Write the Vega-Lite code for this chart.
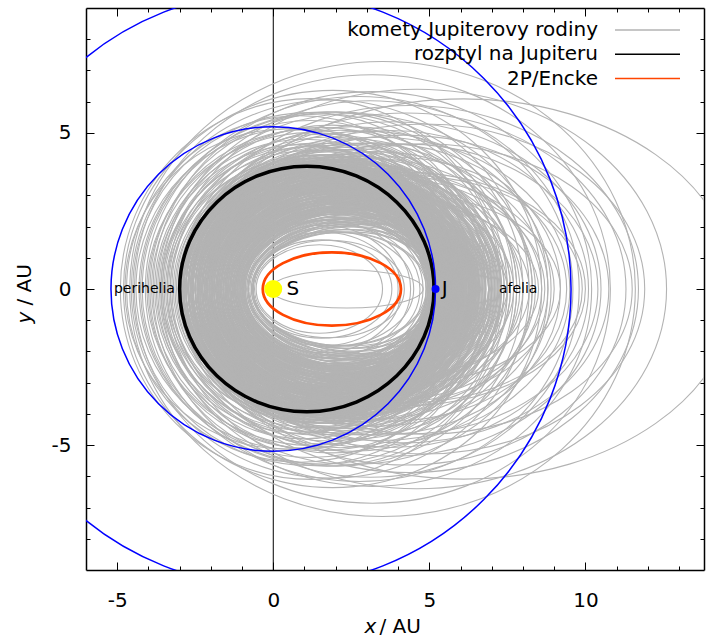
{
"$schema": "https://vega.github.io/schema/vega-lite/v6.json",
"width": 618, "height": 562,
"autosize": {"type": "none"},
"padding": {"left": 86, "top": 8, "right": 2, "bottom": 68},
"background": "white",
"config": {
  "view": {"stroke": null},
  "font": "DejaVu Sans",
  "axis": {"grid": false, "tickColor": "black", "tickWidth": 1, "labelColor": "black", "labelFont": "DejaVu Sans", "labelFontSize": 20, "titleFont": "DejaVu Sans", "titleFontSize": 20, "titleFontWeight": "normal", "titleColor": "black", "domainColor": "black", "domainWidth": 1.5, "zindex": 1}
},
"datasets": {
  "orbits": [
{"s":"K","c":1.475,"a":2.025,"r":"0.70"},{"s":"K","c":1.55,"a":2.25,"r":"0.70"},{"s":"K","c":1.575,"a":2.425,"r":"0.75"},{"s":"K","c":1.8,"a":2.4,"r":"0.65"},{"s":"K","c":1.55,"a":2.55,"r":"0.80"},{"s":"K","c":1.875,"a":2.625,"r":"0.70"},{"s":"K","c":1.9,"a":2.8,"r":"0.75"},{"s":"K","c":1.65,"a":2.75,"r":"0.80"},{"s":"K","c":2.125,"a":2.775,"r":"0.65"},{"s":"K","c":1.8,"a":3.0,"r":"0.80"},{"s":"K","c":2.36,"a":2.44,"r":"0.25"},
{"s":"K","c":2.25,"a":3.05,"r":"0.70"},{"s":"K","c":2.5,"a":3.4,"r":"0.70"},{"s":"K","c":1.975,"a":2.975,"r":"0.75"},{"s":"K","c":2.625,"a":3.675,"r":"0.70"},{"s":"K","c":2.2,"a":3.3,"r":"0.75"},{"s":"K","c":1.975,"a":3.125,"r":"0.80"},{"s":"K","c":2.4,"a":3.6,"r":"0.75"},{"s":"K","c":2.225,"a":3.475,"r":"0.75"},{"s":"K","c":1.95,"a":3.25,"r":"0.80"},{"s":"K","c":2.525,"a":3.875,"r":"0.75"},
{"s":"K","c":2.0,"a":3.4,"r":"0.80"},{"s":"K","c":2.175,"a":3.625,"r":"0.80"},{"s":"K","c":1.75,"a":3.25,"r":"0.85"},{"s":"K","c":2.275,"a":3.825,"r":"0.80"},{"s":"K","c":1.85,"a":3.45,"r":"0.85"},{"s":"K","c":2.125,"a":3.775,"r":"0.85"},{"s":"K","c":1.625,"a":3.325,"r":"0.85"},{"s":"K","c":2.275,"a":4.025,"r":"0.80"},{"s":"K","c":1.85,"a":3.65,"r":"0.85"},{"s":"K","c":1.625,"a":3.475,"r":"0.90"},
{"s":"K","c":2.05,"a":3.95,"r":"0.85"},{"s":"K","c":1.875,"a":3.825,"r":"0.85"},{"s":"K","c":1.6,"a":3.6,"r":"0.90"},{"s":"K","c":2.175,"a":4.225,"r":"0.85"},{"s":"K","c":1.65,"a":3.75,"r":"0.90"},{"s":"K","c":1.825,"a":3.975,"r":"0.90"},{"s":"K","c":1.4,"a":3.6,"r":"0.90"},{"s":"K","c":1.925,"a":4.175,"r":"0.90"},{"s":"K","c":1.5,"a":3.8,"r":"0.90"},{"s":"K","c":1.775,"a":4.125,"r":"0.90"},
{"s":"K","c":1.275,"a":3.675,"r":"0.95"},{"s":"K","c":1.925,"a":4.375,"r":"0.90"},{"s":"K","c":1.5,"a":4.0,"r":"0.95"},{"s":"K","c":1.275,"a":3.825,"r":"0.95"},{"s":"K","c":1.7,"a":4.3,"r":"0.90"},{"s":"K","c":1.525,"a":4.175,"r":"0.95"},{"s":"K","c":1.25,"a":3.95,"r":"0.95"},{"s":"K","c":1.8,"a":4.6,"r":"0.90"},{"s":"K","c":1.25,"a":4.15,"r":"0.95"},
{"s":"K","c":2.375,"a":3.225,"r":"0.70"},{"s":"K","c":2.05,"a":3.0,"r":"0.75"},{"s":"K","c":2.6,"a":3.6,"r":"0.70"},{"s":"K","c":2.325,"a":3.425,"r":"0.75"},{"s":"K","c":2.025,"a":3.225,"r":"0.80"},{"s":"K","c":2.375,"a":3.675,"r":"0.75"},{"s":"K","c":2.1,"a":3.5,"r":"0.80"},{"s":"K","c":2.5,"a":4.0,"r":"0.80"},{"s":"K","c":1.725,"a":3.325,"r":"0.85"},{"s":"K","c":1.975,"a":3.675,"r":"0.85"},
{"s":"K","c":2.175,"a":3.975,"r":"0.85"},{"s":"K","c":1.675,"a":3.575,"r":"0.90"},{"s":"K","c":1.975,"a":3.975,"r":"0.85"},{"s":"K","c":1.525,"a":3.625,"r":"0.90"},{"s":"K","c":2.025,"a":4.225,"r":"0.90"},{"s":"K","c":1.65,"a":3.95,"r":"0.90"},{"s":"K","c":1.725,"a":4.125,"r":"0.90"},{"s":"K","c":1.275,"a":3.775,"r":"0.95"},{"s":"K","c":1.375,"a":3.975,"r":"0.95"},{"s":"K","c":1.6,"a":4.35,"r":"0.95"},
{"s":"K","c":1.125,"a":3.975,"r":"0.95"},{"s":"K","c":1.825,"a":3.075,"r":"0.80"},{"s":"K","c":1.85,"a":3.3,"r":"0.85"},{"s":"K","c":2.35,"a":4.0,"r":"0.80"},{"s":"K","c":1.475,"a":3.425,"r":"0.90"},{"s":"K","c":1.65,"a":3.8,"r":"0.90"},{"s":"K","c":2.05,"a":4.4,"r":"0.90"},{"s":"K","c":2.15,"a":3.2,"r":"0.75"},{"s":"K","c":2.65,"a":3.8,"r":"0.70"},{"s":"K","c":2.1,"a":3.45,"r":"0.80"},{"s":"K","c":1.95,"a":3.5,"r":"0.85"},
{"s":"K","c":3.0,"a":4.0,"r":"0.65"},{"s":"K","c":3.5,"a":4.7,"r":"0.65"},{"s":"K","c":2.75,"a":4.05,"r":"0.75"},{"s":"K","c":3.8,"a":5.2,"r":"0.70"},{"s":"K","c":3.0,"a":4.5,"r":"0.75"},{"s":"K","c":2.5,"a":4.1,"r":"0.80"},{"s":"K","c":3.45,"a":5.15,"r":"0.75"},{"s":"K","c":2.7,"a":4.5,"r":"0.80"},{"s":"K","c":3.75,"a":5.65,"r":"0.75"},{"s":"K","c":2.45,"a":4.45,"r":"0.85"},
{"s":"K","c":2.9,"a":5.0,"r":"0.80"},{"s":"K","c":3.3,"a":5.5,"r":"0.80"},{"s":"K","c":2.2,"a":4.5,"r":"0.85"},{"s":"K","c":2.6,"a":5.0,"r":"0.85"},{"s":"K","c":3.35,"a":5.85,"r":"0.80"},{"s":"K","c":2.2,"a":4.8,"r":"0.90"},{"s":"K","c":2.8,"a":5.5,"r":"0.85"},{"s":"K","c":1.9,"a":4.7,"r":"0.90"},{"s":"K","c":2.45,"a":5.35,"r":"0.90"},{"s":"K","c":2.95,"a":5.95,"r":"0.85"},
{"s":"K","c":2.1,"a":5.2,"r":"0.90"},{"s":"K","c":2.75,"a":3.85,"r":"0.70"},{"s":"K","c":3.225,"a":4.475,"r":"0.70"},{"s":"K","c":2.725,"a":4.175,"r":"0.75"},{"s":"K","c":3.175,"a":4.825,"r":"0.75"},{"s":"K","c":2.35,"a":4.2,"r":"0.85"},{"s":"K","c":3.175,"a":5.225,"r":"0.80"},{"s":"K","c":2.525,"a":4.775,"r":"0.85"},{"s":"K","c":2.175,"a":4.625,"r":"0.90"},{"s":"K","c":3.425,"a":6.075,"r":"0.80"},
{"s":"K","c":2.825,"a":4.575,"r":"0.80"},{"s":"K","c":2.225,"a":4.375,"r":"0.85"},{"s":"K","c":3.575,"a":5.125,"r":"0.70"},{"s":"K","c":2.125,"a":4.975,"r":"0.90"},{"s":"K","c":2.825,"a":4.775,"r":"0.80"},
{"s":"K","c":1.2,"a":4.4,"r":"0.95"},{"s":"K","c":1.55,"a":4.85,"r":"0.95"},{"s":"K","c":1.0,"a":4.4,"r":"0.95"},{"s":"K","c":2.15,"a":5.65,"r":"0.90"},{"s":"K","c":1.2,"a":4.8,"r":"0.95"},{"s":"K","c":2.55,"a":6.25,"r":"0.90"},{"s":"K","c":1.0,"a":4.8,"r":"1.00"},{"s":"K","c":1.55,"a":5.45,"r":"0.95"},{"s":"K","c":1.1,"a":5.1,"r":"1.00"},{"s":"K","c":2.75,"a":6.85,"r":"0.90"},
{"s":"K","c":1.2,"a":5.4,"r":"1.00"},{"s":"K","c":1.6,"a":5.9,"r":"0.95"},{"s":"K","c":0.75,"a":5.15,"r":"1.00"},{"s":"K","c":1.825,"a":6.375,"r":"0.95"},{"s":"K","c":0.85,"a":5.55,"r":"1.00"},{"s":"K","c":1.2,"a":6.1,"r":"1.00"},{"s":"K","c":1.475,"a":4.525,"r":"0.95"},{"s":"K","c":2.525,"a":5.775,"r":"0.90"},{"s":"K","c":1.675,"a":5.225,"r":"0.95"},{"s":"K","c":3.175,"a":7.025,"r":"0.90"},
{"s":"K","c":3.5,"a":8.1,"r":"0.90"},{"s":"K","c":0.375,"a":5.125,"r":"1.00"},{"s":"K","c":3.175,"a":7.625,"r":"0.90"},
{"s":"K","c":4.25,"a":5.75,"r":"0.65"},{"s":"K","c":4.2,"a":6.2,"r":"0.75"},{"s":"K","c":4.175,"a":6.575,"r":"0.75"},{"s":"K","c":4.25,"a":7.05,"r":"0.80"},{"s":"K","c":4.85,"a":6.65,"r":"0.70"},{"s":"K","c":4.35,"a":7.35,"r":"0.80"},{"s":"K","c":4.85,"a":7.05,"r":"0.75"},{"s":"K","c":4.6,"a":8.0,"r":"0.80"},{"s":"K","c":4.3,"a":5.6,"r":"0.65"},{"s":"K","c":3.75,"a":6.35,"r":"0.80"},
{"s":"K","c":3.1,"a":6.7,"r":"0.90"},{"s":"K","c":3.8,"a":6.7,"r":"0.80"},{"s":"K","c":6.1,"a":8.7,"r":"0.70"},
{"s":"K","c":3.4,"a":4.1,"r":"0.55"},{"s":"K","c":3.8,"a":4.7,"r":"0.60"},{"s":"K","c":3.0,"a":3.8,"r":"0.60"},{"s":"K","c":4.1,"a":5.1,"r":"0.60"},
{"s":"K","c":2.15,"a":2.8,"r":"0.65"},{"s":"K","c":2.275,"a":2.925,"r":"0.65"},{"s":"K","c":2.4,"a":3.05,"r":"0.60"},{"s":"K","c":2.525,"a":3.175,"r":"0.60"},{"s":"K","c":2.675,"a":3.325,"r":"0.60"},{"s":"K","c":2.875,"a":3.525,"r":"0.60"},{"s":"K","c":3.125,"a":3.775,"r":"0.55"},
{"s":"K","c":2.015,"a":2.965,"r":"0.75"},{"s":"K","c":2.14,"a":3.09,"r":"0.70"},{"s":"K","c":2.265,"a":3.215,"r":"0.70"},{"s":"K","c":2.39,"a":3.34,"r":"0.70"},{"s":"K","c":2.54,"a":3.49,"r":"0.70"},{"s":"K","c":2.74,"a":3.69,"r":"0.65"},{"s":"K","c":2.99,"a":3.94,"r":"0.65"},
{"s":"K","c":1.93,"a":3.08,"r":"0.80"},{"s":"K","c":2.055,"a":3.205,"r":"0.75"},{"s":"K","c":2.18,"a":3.33,"r":"0.75"},{"s":"K","c":2.305,"a":3.455,"r":"0.75"},{"s":"K","c":2.455,"a":3.605,"r":"0.75"},{"s":"K","c":2.655,"a":3.805,"r":"0.70"},{"s":"K","c":2.905,"a":4.055,"r":"0.70"},
{"s":"K","c":1.87,"a":3.17,"r":"0.80"},{"s":"K","c":1.995,"a":3.295,"r":"0.80"},{"s":"K","c":2.12,"a":3.42,"r":"0.80"},{"s":"K","c":2.245,"a":3.545,"r":"0.80"},{"s":"K","c":2.395,"a":3.695,"r":"0.75"},{"s":"K","c":2.595,"a":3.895,"r":"0.75"},{"s":"K","c":2.845,"a":4.145,"r":"0.75"},
{"s":"K","c":1.81,"a":3.26,"r":"0.85"},{"s":"K","c":1.935,"a":3.385,"r":"0.80"},{"s":"K","c":2.06,"a":3.51,"r":"0.80"},{"s":"K","c":2.185,"a":3.635,"r":"0.80"},{"s":"K","c":2.335,"a":3.785,"r":"0.80"},{"s":"K","c":2.535,"a":3.985,"r":"0.75"},{"s":"K","c":2.785,"a":4.235,"r":"0.75"},
{"s":"K","c":1.75,"a":3.35,"r":"0.85"},{"s":"K","c":1.875,"a":3.475,"r":"0.85"},{"s":"K","c":2.0,"a":3.6,"r":"0.85"},{"s":"K","c":2.125,"a":3.725,"r":"0.80"},{"s":"K","c":2.275,"a":3.875,"r":"0.80"},{"s":"K","c":2.475,"a":4.075,"r":"0.80"},{"s":"K","c":2.725,"a":4.325,"r":"0.80"},
{"s":"K","c":1.69,"a":3.44,"r":"0.85"},{"s":"K","c":1.815,"a":3.565,"r":"0.85"},{"s":"K","c":1.94,"a":3.69,"r":"0.85"},{"s":"K","c":2.065,"a":3.815,"r":"0.85"},{"s":"K","c":2.215,"a":3.965,"r":"0.85"},{"s":"K","c":2.415,"a":4.165,"r":"0.80"},{"s":"K","c":2.665,"a":4.415,"r":"0.80"},
{"s":"K","c":1.63,"a":3.53,"r":"0.90"},{"s":"K","c":1.755,"a":3.655,"r":"0.90"},{"s":"K","c":1.88,"a":3.78,"r":"0.85"},{"s":"K","c":2.005,"a":3.905,"r":"0.85"},{"s":"K","c":2.155,"a":4.055,"r":"0.85"},{"s":"K","c":2.355,"a":4.255,"r":"0.85"},{"s":"K","c":2.605,"a":4.505,"r":"0.80"},
{"s":"K","c":1.57,"a":3.62,"r":"0.90"},{"s":"K","c":1.695,"a":3.745,"r":"0.90"},{"s":"K","c":1.82,"a":3.87,"r":"0.90"},{"s":"K","c":1.945,"a":3.995,"r":"0.85"},{"s":"K","c":2.095,"a":4.145,"r":"0.85"},{"s":"K","c":2.295,"a":4.345,"r":"0.85"},{"s":"K","c":2.545,"a":4.595,"r":"0.85"},
{"s":"K","c":1.51,"a":3.71,"r":"0.90"},{"s":"K","c":1.635,"a":3.835,"r":"0.90"},{"s":"K","c":1.76,"a":3.96,"r":"0.90"},{"s":"K","c":1.885,"a":4.085,"r":"0.90"},{"s":"K","c":2.035,"a":4.235,"r":"0.90"},{"s":"K","c":2.235,"a":4.435,"r":"0.85"},{"s":"K","c":2.485,"a":4.685,"r":"0.85"},
{"s":"K","c":1.45,"a":3.8,"r":"0.90"},{"s":"K","c":1.575,"a":3.925,"r":"0.90"},{"s":"K","c":1.7,"a":4.05,"r":"0.90"},{"s":"K","c":1.825,"a":4.175,"r":"0.90"},{"s":"K","c":1.975,"a":4.325,"r":"0.90"},{"s":"K","c":2.175,"a":4.525,"r":"0.90"},{"s":"K","c":2.425,"a":4.775,"r":"0.85"},
{"s":"K","c":1.39,"a":3.89,"r":"0.95"},{"s":"K","c":1.515,"a":4.015,"r":"0.95"},{"s":"K","c":1.64,"a":4.14,"r":"0.90"},{"s":"K","c":1.765,"a":4.265,"r":"0.90"},{"s":"K","c":1.915,"a":4.415,"r":"0.90"},{"s":"K","c":2.115,"a":4.615,"r":"0.90"},{"s":"K","c":2.365,"a":4.865,"r":"0.85"},
{"s":"K","c":1.33,"a":3.98,"r":"0.95"},{"s":"K","c":1.455,"a":4.105,"r":"0.95"},{"s":"K","c":1.58,"a":4.23,"r":"0.95"},{"s":"K","c":1.705,"a":4.355,"r":"0.90"},{"s":"K","c":1.855,"a":4.505,"r":"0.90"},{"s":"K","c":2.055,"a":4.705,"r":"0.90"},{"s":"K","c":2.305,"a":4.955,"r":"0.90"},
{"s":"K","c":1.27,"a":4.07,"r":"0.95"},{"s":"K","c":1.395,"a":4.195,"r":"0.95"},{"s":"K","c":1.52,"a":4.32,"r":"0.95"},{"s":"K","c":1.645,"a":4.445,"r":"0.95"},{"s":"K","c":1.795,"a":4.595,"r":"0.90"},{"s":"K","c":1.995,"a":4.795,"r":"0.90"},{"s":"K","c":2.245,"a":5.045,"r":"0.90"},
{"s":"K","c":1.21,"a":4.16,"r":"0.95"},{"s":"K","c":1.335,"a":4.285,"r":"0.95"},{"s":"K","c":1.46,"a":4.41,"r":"0.95"},{"s":"K","c":1.585,"a":4.535,"r":"0.95"},{"s":"K","c":1.735,"a":4.685,"r":"0.95"},{"s":"K","c":1.935,"a":4.885,"r":"0.90"},{"s":"K","c":2.185,"a":5.135,"r":"0.90"},
{"s":"K","c":1.075,"a":4.225,"r":"0.95"},{"s":"K","c":1.775,"a":5.125,"r":"0.95"},{"s":"K","c":1.225,"a":4.675,"r":"0.95"},{"s":"K","c":1.875,"a":5.525,"r":"0.95"},{"s":"K","c":0.875,"a":4.625,"r":"1.00"},{"s":"K","c":2.025,"a":5.975,"r":"0.95"},{"s":"K","c":1.225,"a":5.275,"r":"0.95"},{"s":"K","c":1.725,"a":5.975,"r":"0.95"},{"s":"K","c":1.15,"a":5.65,"r":"1.00"},{"s":"K","c":1.9,"a":6.7,"r":"0.95"},{"s":"K","c":1.2,"a":4.5,"r":"0.95"},{"s":"K","c":1.375,"a":4.925,"r":"0.95"},
{"s":"K","c":2.125,"a":2.925,"r":"0.70"},{"s":"K","c":2.275,"a":3.075,"r":"0.65"},{"s":"K","c":2.4,"a":3.2,"r":"0.65"},{"s":"K","c":2.55,"a":3.35,"r":"0.65"},{"s":"K","c":2.725,"a":3.525,"r":"0.65"},
{"s":"K","c":2.01,"a":3.06,"r":"0.75"},{"s":"K","c":2.16,"a":3.21,"r":"0.75"},{"s":"K","c":2.285,"a":3.335,"r":"0.75"},{"s":"K","c":2.435,"a":3.485,"r":"0.70"},{"s":"K","c":2.61,"a":3.66,"r":"0.70"},
{"s":"K","c":1.933,"a":3.158,"r":"0.80"},{"s":"K","c":2.083,"a":3.308,"r":"0.80"},{"s":"K","c":2.208,"a":3.433,"r":"0.75"},{"s":"K","c":2.358,"a":3.583,"r":"0.75"},{"s":"K","c":2.533,"a":3.758,"r":"0.75"},
{"s":"K","c":1.868,"a":3.243,"r":"0.80"},{"s":"K","c":2.018,"a":3.393,"r":"0.80"},{"s":"K","c":2.143,"a":3.518,"r":"0.80"},{"s":"K","c":2.293,"a":3.668,"r":"0.80"},{"s":"K","c":2.468,"a":3.843,"r":"0.75"},
{"s":"K","c":1.803,"a":3.328,"r":"0.85"},{"s":"K","c":1.953,"a":3.478,"r":"0.85"},{"s":"K","c":2.078,"a":3.603,"r":"0.80"},{"s":"K","c":2.228,"a":3.753,"r":"0.80"},{"s":"K","c":2.403,"a":3.928,"r":"0.80"},
{"s":"K","c":1.738,"a":3.413,"r":"0.85"},{"s":"K","c":1.888,"a":3.563,"r":"0.85"},{"s":"K","c":2.013,"a":3.688,"r":"0.85"},{"s":"K","c":2.163,"a":3.838,"r":"0.85"},{"s":"K","c":2.338,"a":4.013,"r":"0.80"},
{"s":"K","c":1.673,"a":3.498,"r":"0.90"},{"s":"K","c":1.823,"a":3.648,"r":"0.85"},{"s":"K","c":1.948,"a":3.773,"r":"0.85"},{"s":"K","c":2.098,"a":3.923,"r":"0.85"},{"s":"K","c":2.273,"a":4.098,"r":"0.85"},
{"s":"K","c":1.608,"a":3.583,"r":"0.90"},{"s":"K","c":1.758,"a":3.733,"r":"0.90"},{"s":"K","c":1.883,"a":3.858,"r":"0.85"},{"s":"K","c":2.033,"a":4.008,"r":"0.85"},{"s":"K","c":2.208,"a":4.183,"r":"0.85"},
{"s":"K","c":1.543,"a":3.668,"r":"0.90"},{"s":"K","c":1.693,"a":3.818,"r":"0.90"},{"s":"K","c":1.818,"a":3.943,"r":"0.90"},{"s":"K","c":1.968,"a":4.093,"r":"0.90"},{"s":"K","c":2.143,"a":4.268,"r":"0.85"},
{"s":"K","c":1.478,"a":3.753,"r":"0.90"},{"s":"K","c":1.628,"a":3.903,"r":"0.90"},{"s":"K","c":1.753,"a":4.028,"r":"0.90"},{"s":"K","c":1.903,"a":4.178,"r":"0.90"},{"s":"K","c":2.078,"a":4.353,"r":"0.90"},
{"s":"K","c":1.413,"a":3.838,"r":"0.95"},{"s":"K","c":1.563,"a":3.988,"r":"0.90"},{"s":"K","c":1.688,"a":4.113,"r":"0.90"},{"s":"K","c":1.838,"a":4.263,"r":"0.90"},{"s":"K","c":2.013,"a":4.438,"r":"0.90"},
{"s":"K","c":1.348,"a":3.923,"r":"0.95"},{"s":"K","c":1.498,"a":4.073,"r":"0.95"},{"s":"K","c":1.623,"a":4.198,"r":"0.90"},{"s":"K","c":1.773,"a":4.348,"r":"0.90"},{"s":"K","c":1.948,"a":4.523,"r":"0.90"},
{"s":"K","c":1.283,"a":4.008,"r":"0.95"},{"s":"K","c":1.433,"a":4.158,"r":"0.95"},{"s":"K","c":1.558,"a":4.283,"r":"0.95"},{"s":"K","c":1.708,"a":4.433,"r":"0.90"},{"s":"K","c":1.883,"a":4.608,"r":"0.90"},
{"s":"K","c":1.218,"a":4.093,"r":"0.95"},{"s":"K","c":1.368,"a":4.243,"r":"0.95"},{"s":"K","c":1.493,"a":4.368,"r":"0.95"},{"s":"K","c":1.643,"a":4.518,"r":"0.95"},{"s":"K","c":1.818,"a":4.693,"r":"0.90"},
{"s":"R","c":1.075,"a":4.075,"r":"0.965"},
{"s":"E","c":1.877,"a":2.213,"r":"0.53"}
  ],
  "planets": [{"n":"Jupiter","c":0,"a":5.2},{"n":"Saturn","c":0,"a":9.54}],
  "bodies": [{"n":"S","x":0,"y":0},{"n":"J","x":5.2,"y":0}],
  "labels": [{"t":"S","x":0.42,"y":0},{"t":"J","x":5.4,"y":0},{"t":"perihelia","x":-3.15,"y":0},{"t":"afelia","x":7.23,"y":0}]
},
"resolve": {"axis": {"x": "independent", "y": "independent"}},
"layer": [
  {
    "data": {"values": [{"x": 0}]},
    "mark": {"type": "rule", "color": "black", "strokeWidth": 1},
    "encoding": {"x": {"field": "x", "type": "quantitative", "scale": {"domain": [-6, 13.8], "nice": false, "zero": false}, "axis": null}}
  },
  {
    "data": {"name": "orbits"},
    "mark": {"type": "point", "filled": false, "opacity": 1, "clip": true},
    "encoding": {
      "x": {"field": "c", "type": "quantitative", "scale": {"domain": [-6, 13.8], "nice": false, "zero": false},
        "axis": {"orient": "bottom", "values": [-5, 0, 5, 10], "tickSize": -8, "labelPadding": 28, "labelExpr": "'' + datum.value", "domain": true, "title": "/ AU", "titleX": 293, "titleY": 62, "titleAlign": "left", "titleBaseline": "alphabetic"}},
      "y": {"datum": 0, "type": "quantitative", "scale": {"domain": [-9, 9], "nice": false, "zero": false},
        "axis": {"orient": "left", "values": [-5, 0, 5], "tickSize": -8, "labelPadding": 23, "labelExpr": "'' + datum.value", "domain": true, "title": "/ AU", "titleAngle": 270, "titleX": -56, "titleY": 297, "titleAlign": "left", "titleBaseline": "alphabetic"}},
      "size": {"field": "a", "type": "quantitative", "scale": {"type": "pow", "exponent": 2, "domain": [0, 10], "range": [0, 389700], "nice": false}, "legend": null},
      "shape": {"field": "r", "type": "nominal", "legend": null, "scale": {
        "domain": ["0.25","0.53","0.55","0.60","0.65","0.70","0.75","0.80","0.85","0.90","0.95","0.965","1.00"],
        "range": [
          "M-1,0C-1,-0.1381,-0.5523,-0.25,0,-0.25C0.5523,-0.25,1,-0.1381,1,0C1,0.1381,0.5523,0.25,0,0.25C-0.5523,0.25,-1,0.1381,-1,0Z",
          "M-1,0C-1,-0.2927,-0.5523,-0.53,0,-0.53C0.5523,-0.53,1,-0.2927,1,0C1,0.2927,0.5523,0.53,0,0.53C-0.5523,0.53,-1,0.2927,-1,0Z",
          "M-1,0C-1,-0.3038,-0.5523,-0.55,0,-0.55C0.5523,-0.55,1,-0.3038,1,0C1,0.3038,0.5523,0.55,0,0.55C-0.5523,0.55,-1,0.3038,-1,0Z",
          "M-1,0C-1,-0.3314,-0.5523,-0.6,0,-0.6C0.5523,-0.6,1,-0.3314,1,0C1,0.3314,0.5523,0.6,0,0.6C-0.5523,0.6,-1,0.3314,-1,0Z",
          "M-1,0C-1,-0.359,-0.5523,-0.65,0,-0.65C0.5523,-0.65,1,-0.359,1,0C1,0.359,0.5523,0.65,0,0.65C-0.5523,0.65,-1,0.359,-1,0Z",
          "M-1,0C-1,-0.3866,-0.5523,-0.7,0,-0.7C0.5523,-0.7,1,-0.3866,1,0C1,0.3866,0.5523,0.7,0,0.7C-0.5523,0.7,-1,0.3866,-1,0Z",
          "M-1,0C-1,-0.4142,-0.5523,-0.75,0,-0.75C0.5523,-0.75,1,-0.4142,1,0C1,0.4142,0.5523,0.75,0,0.75C-0.5523,0.75,-1,0.4142,-1,0Z",
          "M-1,0C-1,-0.4418,-0.5523,-0.8,0,-0.8C0.5523,-0.8,1,-0.4418,1,0C1,0.4418,0.5523,0.8,0,0.8C-0.5523,0.8,-1,0.4418,-1,0Z",
          "M-1,0C-1,-0.4695,-0.5523,-0.85,0,-0.85C0.5523,-0.85,1,-0.4695,1,0C1,0.4695,0.5523,0.85,0,0.85C-0.5523,0.85,-1,0.4695,-1,0Z",
          "M-1,0C-1,-0.4971,-0.5523,-0.9,0,-0.9C0.5523,-0.9,1,-0.4971,1,0C1,0.4971,0.5523,0.9,0,0.9C-0.5523,0.9,-1,0.4971,-1,0Z",
          "M-1,0C-1,-0.5247,-0.5523,-0.95,0,-0.95C0.5523,-0.95,1,-0.5247,1,0C1,0.5247,0.5523,0.95,0,0.95C-0.5523,0.95,-1,0.5247,-1,0Z",
          "M-1,0C-1,-0.533,-0.5523,-0.965,0,-0.965C0.5523,-0.965,1,-0.533,1,0C1,0.533,0.5523,0.965,0,0.965C-0.5523,0.965,-1,0.533,-1,0Z",
          "M-1,0C-1,-0.5523,-0.5523,-1,0,-1C0.5523,-1,1,-0.5523,1,0C1,0.5523,0.5523,1,0,1C-0.5523,1,-1,0.5523,-1,0Z"
        ]}},
      "stroke": {"field": "s", "type": "nominal", "scale": {"domain": ["K", "R", "E"], "range": ["#b3b3b3", "#000000", "#ff4500"]},
        "legend": {"title": null, "orient": "none", "legendX": 514, "legendY": 12, "symbolType": "M-6.5,0L6.5,0", "symbolSize": 100, "symbolOffset": 37.5, "labelOffset": -59.5, "labelAlign": "right", "labelFont": "DejaVu Sans", "labelFontSize": 20, "labelColor": "black", "labelLimit": 400, "rowPadding": 4.3, "padding": 0,
          "labelExpr": "datum.value == 'K' ? 'komety Jupiterovy rodiny' : datum.value == 'R' ? 'rozptyl na Jupiteru' : '2P/Encke'",
          "encode": {"symbols": {"update": {"strokeWidth": {"signal": "datum.value == 'R' ? 3.6 : datum.value == 'E' ? 2.8 : 1.5"}}}}}},
      "strokeWidth": {"condition": [{"test": "datum.s == 'R'", "value": 3.5}, {"test": "datum.s == 'E'", "value": 2.8}], "value": 1.1}
    }
  },
  {
    "data": {"name": "planets"},
    "mark": {"type": "point", "shape": "circle", "filled": false, "color": "#0000ff", "strokeWidth": 1.5, "opacity": 1, "clip": true},
    "encoding": {
      "x": {"field": "c", "type": "quantitative", "scale": {"domain": [-6, 13.8], "nice": false, "zero": false},
        "axis": {"orient": "bottom", "values": [-5,-4,-3,-2,-1,0,1,2,3,4,5,6,7,8,9,10,11,12,13], "tickSize": -4, "labels": false, "domain": false, "title": "x", "titleX": 278, "titleY": 62, "titleAlign": "left", "titleBaseline": "alphabetic", "titleFontStyle": "italic"}},
      "y": {"datum": 0, "type": "quantitative", "scale": {"domain": [-9, 9], "nice": false, "zero": false},
        "axis": {"orient": "left", "values": [-8,-7,-6,-5,-4,-3,-2,-1,0,1,2,3,4,5,6,7,8], "tickSize": -4, "labels": false, "domain": false, "title": "y", "titleAngle": 270, "titleX": -56, "titleY": 315, "titleAlign": "left", "titleBaseline": "alphabetic", "titleFontStyle": "italic"}},
      "size": {"field": "a", "type": "quantitative", "scale": {"type": "pow", "exponent": 2, "domain": [0, 10], "range": [0, 389700], "nice": false}, "legend": null}
    }
  },
  {
    "data": {"name": "bodies"},
    "transform": [{"filter": "datum.n == 'S'"}],
    "mark": {"type": "point", "shape": "circle", "filled": true, "color": "#ffff00", "size": 324, "opacity": 1},
    "encoding": {
      "x": {"field": "x", "type": "quantitative", "scale": {"domain": [-6, 13.8], "nice": false, "zero": false},
        "axis": {"orient": "top", "values": [-5, 0, 5, 10], "tickSize": -8, "labels": false, "domain": true, "title": null}},
      "y": {"field": "y", "type": "quantitative", "scale": {"domain": [-9, 9], "nice": false, "zero": false},
        "axis": {"orient": "right", "values": [-5, 0, 5], "tickSize": -8, "labels": false, "domain": true, "title": null}}
    }
  },
  {
    "data": {"name": "bodies"},
    "transform": [{"filter": "datum.n == 'J'"}],
    "mark": {"type": "point", "shape": "circle", "filled": true, "color": "#0000ff", "size": 64, "opacity": 1},
    "encoding": {
      "x": {"field": "x", "type": "quantitative", "scale": {"domain": [-6, 13.8], "nice": false, "zero": false},
        "axis": {"orient": "top", "values": [-5,-4,-3,-2,-1,0,1,2,3,4,5,6,7,8,9,10,11,12,13], "tickSize": -4, "labels": false, "domain": false, "title": null}},
      "y": {"field": "y", "type": "quantitative", "scale": {"domain": [-9, 9], "nice": false, "zero": false},
        "axis": {"orient": "right", "values": [-8,-7,-6,-5,-4,-3,-2,-1,0,1,2,3,4,5,6,7,8], "tickSize": -4, "labels": false, "domain": false, "title": null}}
    }
  },
  {
    "data": {"name": "labels"},
    "transform": [{"filter": "datum.t == 'S' || datum.t == 'J'"}],
    "mark": {"type": "text", "align": "left", "baseline": "middle", "font": "DejaVu Sans", "fontSize": 20, "color": "black"},
    "encoding": {
      "x": {"field": "x", "type": "quantitative", "scale": {"domain": [-6, 13.8], "nice": false, "zero": false}, "axis": null},
      "y": {"field": "y", "type": "quantitative", "scale": {"domain": [-9, 9], "nice": false, "zero": false}, "axis": null},
      "text": {"field": "t"}
    }
  },
  {
    "data": {"name": "labels"},
    "transform": [{"filter": "datum.t == 'perihelia'"}],
    "mark": {"type": "text", "align": "right", "baseline": "middle", "font": "DejaVu Sans", "fontSize": 14, "color": "black"},
    "encoding": {
      "x": {"field": "x", "type": "quantitative", "scale": {"domain": [-6, 13.8], "nice": false, "zero": false}, "axis": null},
      "y": {"field": "y", "type": "quantitative", "scale": {"domain": [-9, 9], "nice": false, "zero": false}, "axis": null},
      "text": {"field": "t"}
    }
  },
  {
    "data": {"name": "labels"},
    "transform": [{"filter": "datum.t == 'afelia'"}],
    "mark": {"type": "text", "align": "left", "baseline": "middle", "font": "DejaVu Sans", "fontSize": 14, "color": "black"},
    "encoding": {
      "x": {"field": "x", "type": "quantitative", "scale": {"domain": [-6, 13.8], "nice": false, "zero": false}, "axis": null},
      "y": {"field": "y", "type": "quantitative", "scale": {"domain": [-9, 9], "nice": false, "zero": false}, "axis": null},
      "text": {"field": "t"}
    }
  }
]
}
